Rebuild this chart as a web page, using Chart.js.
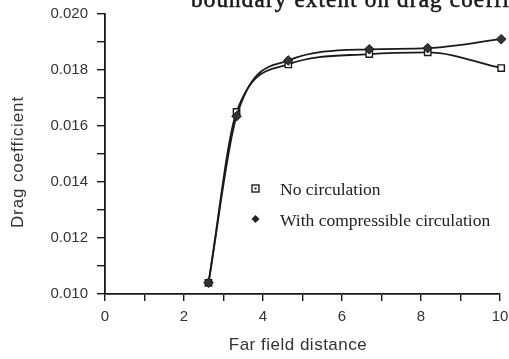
<!DOCTYPE html>
<html><head><meta charset="utf-8">
<script src="https://cdn.jsdelivr.net/npm/chart.js@4"></script>
<style>html,body{margin:0;padding:0;background:#fff}#wrap{width:509px;height:359px;position:relative}</style>
</head><body><div id="wrap"><canvas id="c" width="509" height="359"></canvas></div>
<script>
const farField = [2.62, 3.33, 4.64, 6.69, 8.17, 10.03];
const noCirculation = [0.0104, 0.0165, 0.0182, 0.01857, 0.01863, 0.01807];
const withCirculation = [0.0104, 0.01635, 0.01834, 0.01874, 0.01878, 0.0191];
const seriesNames = ["No circulation", "With compressible circulation"];
const titleText = "boundary extent on drag coefficient";
const xTitle = "Far field distance";
const yTitle = "Drag coefficient";

const toXY = (xs, ys) => xs.map((x, i) => ({x, y: ys[i]}));

const overlay = {
  id: 'overlay',
  afterDraw(chart) {
    const ctx = chart.ctx;
    ctx.save();
    ctx.fillStyle = '#1a1a1a';
    ctx.strokeStyle = '#1a1a1a';
    ctx.lineWidth = 0.6;
    ctx.font = '23px "Liberation Serif"';
    ctx.letterSpacing = '1.2px';
    ctx.textBaseline = 'alphabetic';
    ctx.textAlign = 'left';
    ctx.fillText(titleText, 191, 7);
    ctx.strokeText(titleText, 191, 7);
    // axis titles
    ctx.fillStyle = '#333';
    ctx.font = '17px "Liberation Sans"';
    ctx.textBaseline = 'middle';
    ctx.letterSpacing = '0.5px';
    ctx.textAlign = 'center';
    ctx.fillText(xTitle, 298, 345);
    ctx.save();
    ctx.translate(18, 162);
    ctx.rotate(-Math.PI / 2);
    ctx.letterSpacing = '0.9px';
    ctx.fillText(yTitle, 0, 0);
    ctx.restore();
    ctx.letterSpacing = '0px';
    // legend
    ctx.textAlign = 'left';
    ctx.font = '17.5px "Liberation Serif"';
    ctx.fillStyle = '#222';
    ctx.fillText(seriesNames[0], 280, 190);
    ctx.fillText(seriesNames[1], 280, 221);
    // square marker
    ctx.strokeStyle = '#222'; ctx.lineWidth = 1.4; ctx.fillStyle = '#fff';
    ctx.fillRect(252, 185, 7, 7); ctx.strokeRect(252, 185, 7, 7);
    ctx.fillStyle = '#222'; ctx.fillRect(254.5, 187.5, 2, 2);
    // diamond marker
    ctx.beginPath(); ctx.moveTo(255.5, 215); ctx.lineTo(259.5, 219); ctx.lineTo(255.5, 223); ctx.lineTo(251.5, 219); ctx.closePath(); ctx.fill();
    ctx.restore();
  }
};

new Chart(document.getElementById('c'), {
  type: 'line',
  data: {
    datasets: [
      {label: seriesNames[0], data: toXY(farField, noCirculation), borderColor: '#1a1a1a', borderWidth: 1.8, order: 1,
       pointStyle: 'rect', pointRadius: 4.5, pointBackgroundColor: '#fff', pointBorderColor: '#1a1a1a', pointBorderWidth: 1.4,
       cubicInterpolationMode: 'monotone', fill: false, clip: false},
      {label: seriesNames[1], data: toXY(farField, withCirculation), borderColor: '#1a1a1a', borderWidth: 1.8, order: 0,
       pointStyle: 'rectRot', pointRadius: 4.8, pointBackgroundColor: '#333', pointBorderColor: '#1a1a1a', pointBorderWidth: 1,
       cubicInterpolationMode: 'monotone', fill: false, clip: false}
    ]
  },
  options: {
    responsive: false, animation: false, devicePixelRatio: 1,
    layout: {padding: {top: 14, right: 9, left: 0, bottom: 0}},
    plugins: {legend: {display: false}, tooltip: {enabled: false}, title: {display: false}},
    scales: {
      x: {
        type: 'linear', min: 0, max: 10,
        border: {color: '#1a1a1a', width: 1.8},
        grid: {drawOnChartArea: false, color: '#1a1a1a', tickLength: 7, lineWidth: 1.4},
        ticks: {stepSize: 1, autoSkip: false, maxRotation: 0, color: '#333', padding: 7,
                font: {family: '"Liberation Sans"', size: 15},
                callback: v => (v % 2 === 0 ? String(v) : '')},
        title: {display: false, text: xTitle},
        afterFit(s) { s.height = 65; s.paddingLeft = 0; s.paddingRight = 0; }
      },
      y: {
        type: 'linear', min: 0.010, max: 0.020,
        border: {color: '#1a1a1a', width: 1.8},
        grid: {drawOnChartArea: false, color: '#1a1a1a', tickLength: 8, lineWidth: 1.4},
        ticks: {stepSize: 0.001, autoSkip: false, color: '#333', padding: 9,
                font: {family: '"Liberation Sans"', size: 15},
                callback: v => (Math.round(v * 1000) % 2 === 0 ? v.toFixed(3) : '')},
        title: {display: false, text: yTitle},
        afterFit(s) { s.width = 105; s.paddingTop = 0; s.paddingBottom = 0; }
      }
    }
  },
  plugins: [overlay]
});
</script>
</body></html>
